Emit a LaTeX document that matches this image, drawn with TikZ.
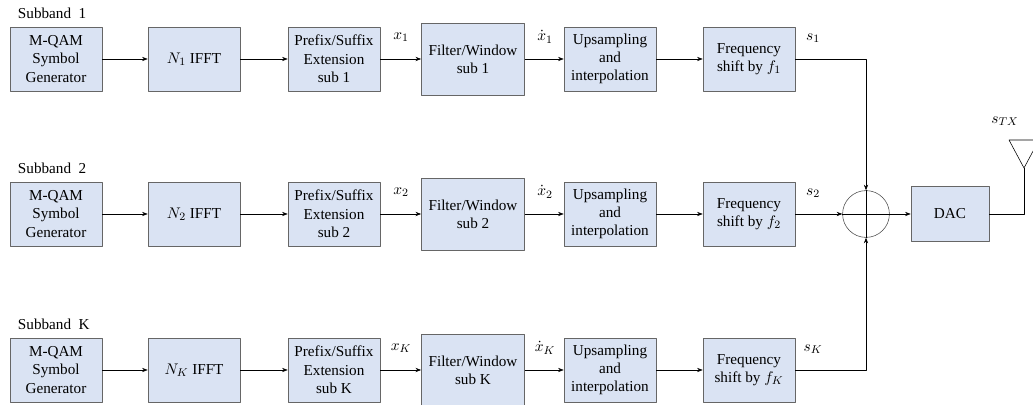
\documentclass[tikz,border=0pt]{standalone}
\usepackage{fontspec}
\setmainfont{Liberation Serif}
\usetikzlibrary{arrows.meta,calc}
\definecolor{blkfill}{RGB}{218,227,243}
\tikzset{
  blk/.style={draw=black!60, fill=blkfill, minimum width=2.3cm, minimum height=1.6cm, align=center, inner sep=2pt},
  wideblk/.style={blk, minimum width=2.58cm, minimum height=1.8cm},
  sig/.style={inner sep=1pt}
}
\begin{document}
\begin{tikzpicture}[x=0.025cm, y=-0.025cm, font=\fontsize{10.8}{13}\selectfont, line join=round, >={Stealth[length=4pt,width=3pt]}]
	\useasboundingbox (0,0) rectangle (1033,405);
	% one chain per subband
	\foreach \r/\yy in {1/59, 2/214, K/370} {
		\node[anchor=west] (lab\r) at (13,\yy-46) {Subband\ \ \r};
		\node[blk] (gen\r) at (56,\yy) {M-QAM\\Symbol\\Generator};
		\node[blk] (fft\r) at (194,\yy) {$N_{\r}$ IFFT};
		\node[blk] (ext\r) at (334,\yy) {Prefix/Suffix\\Extension\\sub \r};
		\node[wideblk] (flt\r) at (473,\yy) {Filter/Window\\sub \r};
		\node[blk] (ups\r) at (610,\yy) {Upsampling\\and\\interpolation};
		\node[blk] (frq\r) at (749,\yy) {Frequency\\shift by $f_{\r}$};
		\draw[->] (gen\r) -- (fft\r);
		\draw[->] (fft\r) -- (ext\r);
		\draw[->] (ext\r) -- (flt\r);
		\draw[->] (flt\r) -- (ups\r);
		\draw[->] (ups\r) -- (frq\r);
		\node[sig] (x\r) at (401,\yy-22) {$x_{\r}$};
		\node[sig] (xd\r) at (545,\yy-22) {$\dot{x}_{\r}$};
		\node[sig] (s\r) at (813,\yy-21) {$s_{\r}$};
	}
	% summation and transmitter
	\node[circle, draw=black!70, minimum size=1.17cm] (sum) at (866,214) {};
	\draw (sum.north) -- (sum.south) (sum.west) -- (sum.east);
	\draw[->] (frq1.east) -| (sum.north);
	\draw[->] (frq2) -- (sum);
	\draw[->] (frqK.east) -| (sum.south);
	\node[blk, minimum width=1.95cm, minimum height=1.38cm] (dac) at (950,214) {DAC};
	\draw[->] (sum) -- (dac);
	\coordinate (ant) at (1024,168);
	\draw (dac.east) -| (ant);
	\draw (ant) -- (1009,140) -- (1039,140) -- cycle;
	\node[sig] (stx) at (1005,121) {$s_{TX}$};
\end{tikzpicture}
\end{document}
